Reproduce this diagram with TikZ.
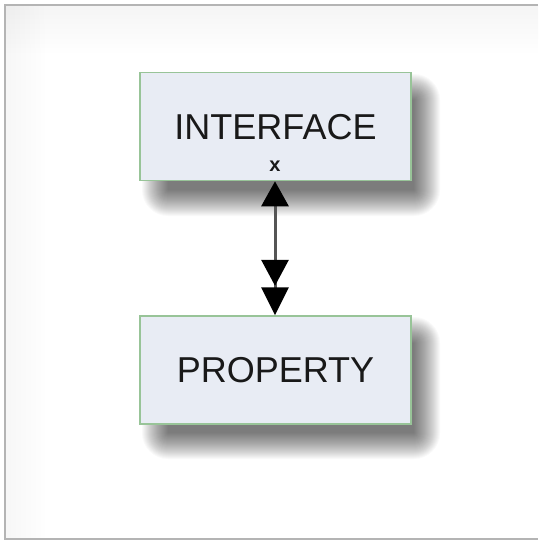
\documentclass[tikz,border=0pt]{standalone}
\usepackage{fontspec}
\newfontfamily\lblfont{Liberation Sans}
\usetikzlibrary{arrows.meta}
\definecolor{boxfill}{HTML}{E8ECF4}
\definecolor{boxline}{HTML}{98C498}
\definecolor{framecol}{HTML}{B4B4B4}
\definecolor{linkcol}{HTML}{555555}
\tikzset{
  entity/.style={draw=boxline, line width=1.2pt, fill=boxfill,
    minimum width=271pt, minimum height=108pt, inner sep=0pt,
    font=\lblfont\fontsize{36pt}{40pt}\selectfont, text=black!90},
  marker/.style={font=\lblfont\bfseries\fontsize{20pt}{22pt}\selectfont, inner sep=0pt, text=black!90},
  link/.style={draw=linkcol, line width=3pt},
  softshadow/.style={fill=black, opacity=0.024}
}
\begin{document}
\begin{tikzpicture}[x=1pt,y=-1pt]
\useasboundingbox (0,0) rectangle (538,543);
\fill[white] (0,0) rectangle (538,543);
% faint inner shading of the frame
\shade[top color=black!4, bottom color=white] (6,6) rectangle (538,55);
\shade[left color=black, right color=white, opacity=0.03] (6,6) rectangle (45,538);
% frame
\draw[framecol, line width=2pt] (538,5) -- (5,5) -- (5,539) -- (538,539);
% soft shadows
\foreach \r in {0,1,...,26}{
  \fill[softshadow, rounded corners=\r pt] (168-\r,100-\r) rectangle (414+\r,190+\r);
  \fill[softshadow, rounded corners=\r pt] (168-\r,343-\r) rectangle (414+\r,433+\r);
}
% boxes
\node[entity] (iface) at (275.5,126.7) {INTERFACE};
\node[marker] (xmark) at (275,166) {x};
\node[entity] (prop) at (275.5,369.9) {PROPERTY};
% connector
\draw[link, {Triangle[width=27pt,length=25pt,color=black]}-{Triangle[width=27pt,length=26pt,color=black,sep=1.5pt]Triangle[width=27pt,length=28pt,color=black]}]
  (iface.south -| 275,0) -- (prop.north -| 275,0);
\end{tikzpicture}
\end{document}
